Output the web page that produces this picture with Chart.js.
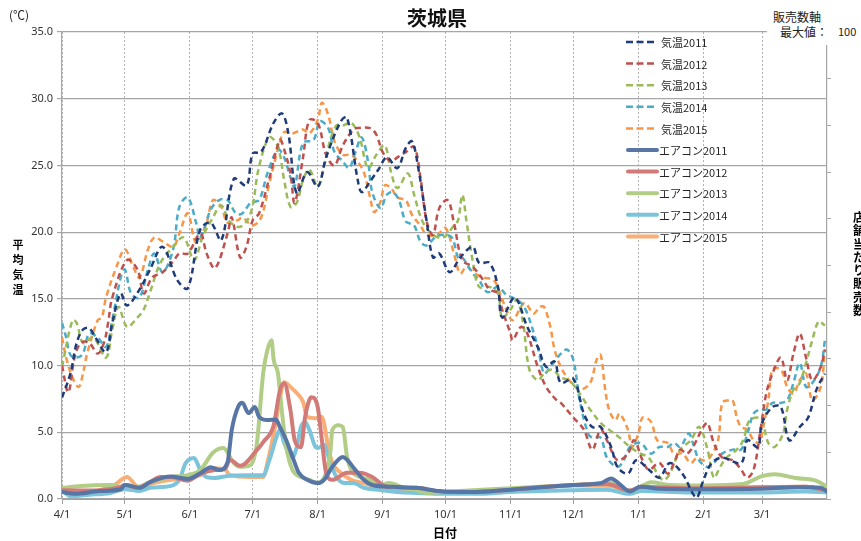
<!DOCTYPE html>
<html>
<head>
<meta charset="utf-8">
<script src="https://cdn.jsdelivr.net/npm/chart.js@4/dist/chart.umd.min.js"></script>
<style>
  html, body { margin: 0; padding: 0; background: #fff; }
  #wrap { position: relative; width: 861px; height: 541px; overflow: hidden; font-family: "Noto Sans CJK JP", "Noto Sans", sans-serif; }
  #wrap canvas { position: absolute; left: 0; top: 0; }
  .lbl { position: absolute; white-space: nowrap; color: #111; }
  .vert { position: absolute; text-align: center; font-weight: bold; color: #000; }
  .vert span { display: block; }
</style>
</head>
<body>
<div id="wrap">
  <canvas id="c" width="861" height="541"></canvas>
  <div class="lbl" style="left:437px; top:6px; transform:translateX(-50%); font-size:20px; line-height:24px; font-weight:bold;">茨城県</div>
  <div class="lbl" style="left:9px; top:8px; font-size:12px; line-height:14px; color:#222;">(℃)</div>
  <div class="vert" style="left:11px; top:237px; width:14px; font-size:11px; line-height:15px;"><span>平</span><span>均</span><span>気</span><span>温</span></div>
  <div class="vert" style="left:852px; top:210px; width:14px; font-size:12px; line-height:13.3px;"><span>店</span><span>舗</span><span>当</span><span>た</span><span>り</span><span>販</span><span>売</span><span>数</span></div>
  <div class="lbl" style="left:433px; top:525px; font-size:12px; line-height:16px; font-weight:bold; color:#000;">日付</div>
  <div style="position:absolute; left:767px; top:0; width:94px; height:45px; background:#fff;">
    <div class="lbl" style="left:6px; top:9px; font-size:12px; line-height:15px; color:#222;">販売数軸</div>
    <div class="lbl" style="left:13px; top:24px; font-size:12px; line-height:15px; color:#222;">最大値：</div>
    <div class="lbl" style="left:71px; top:24px; font-size:11px; line-height:15px; color:#222;">100</div>
  </div>
</div>
<script>
// Month boundaries on a day-of-fiscal-year axis (day 0 = 4/1)
const monthDays = [0, 30, 61, 91, 122, 153, 183, 214, 244, 275, 306, 334];
const monthLabels = ['4/1', '5/1', '6/1', '7/1', '8/1', '9/1', '10/1', '11/1', '12/1', '1/1', '2/1', '3/1'];

// Average temperature (℃), [day, value]
const temp2011 = [[0,7.6],[4,9.4],[7,11.7],[10,12.7],[13,12.8],[16,12.1],[21,11.0],[24,13.2],[28,15.4],[31,14.5],[37,15.7],[42,17.2],[48,18.9],[55,16.4],[60,15.8],[66,20.2],[71,20.7],[76,19.4],[82,24.0],[88,23.5],[91,25.9],[95,26.0],[101,28.2],[105,28.9],[108,27.4],[112,22.9],[117,24.5],[122,23.4],[126,25.6],[133,28.3],[136,28.6],[141,24.0],[143,23.0],[147,23.8],[151,24.7],[155,25.6],[160,24.8],[164,26.3],[167,26.8],[170,24.8],[174,20.8],[177,18.1],[180,18.4],[185,17.0],[190,18.1],[196,18.9],[199,17.7],[204,17.7],[208,15.9],[210,13.6],[216,15.1],[222,12.9],[227,11.4],[231,9.9],[235,10.3],[238,8.7],[244,9.0],[249,6.4],[253,5.4],[257,5.4],[262,3.9],[265,2.4],[270,1.9],[274,2.9],[280,2.2],[285,1.6],[290,2.7],[296,1.9],[301,0.4],[303,0.1],[306,1.4],[310,2.7],[315,3.1],[324,2.7],[327,4.4],[332,3.9],[334,5.7],[339,6.9],[343,6.9],[347,4.4],[352,5.4],[356,6.1],[360,8.2],[364,9.4]];
const temp2012 = [[0,10.0],[3,8.0],[6,10.6],[9,11.7],[13,11.7],[17,10.9],[20,11.7],[22,13.2],[24,15.1],[31,17.9],[36,17.2],[39,15.4],[43,16.6],[48,17.0],[53,17.8],[56,18.4],[60,18.4],[66,19.9],[69,18.4],[73,17.3],[79,19.9],[81,21.1],[85,18.1],[88,18.9],[91,20.9],[94,21.4],[99,24.1],[104,26.9],[106,26.2],[109,24.4],[111,22.2],[115,25.6],[118,28.4],[122,28.2],[126,25.8],[130,25.0],[134,26.5],[139,27.7],[141,27.8],[147,27.8],[150,27.3],[153,26.0],[157,25.3],[160,25.6],[164,26.0],[168,26.4],[171,24.1],[174,20.8],[177,19.8],[180,21.8],[184,22.4],[187,20.7],[191,17.9],[196,17.4],[201,16.4],[204,15.7],[208,15.4],[210,14.2],[214,12.4],[215,11.9],[219,12.9],[222,12.4],[227,9.9],[231,8.4],[236,7.4],[238,7.2],[244,6.1],[249,5.2],[253,3.7],[257,5.2],[260,4.4],[265,2.9],[270,3.4],[273,4.4],[277,2.9],[280,2.2],[285,2.7],[289,1.9],[292,2.7],[295,3.7],[298,3.4],[301,3.9],[306,5.4],[308,5.7],[311,4.2],[315,3.1],[320,2.9],[324,2.2],[327,1.6],[330,2.2],[333,4.9],[336,7.9],[339,9.4],[343,10.6],[346,8.9],[349,10.9],[352,12.4],[355,10.6],[358,8.9],[362,9.9],[364,11.2]];
const temp2013 = [[0,9.9],[5,13.4],[7,13.2],[10,11.7],[15,12.1],[21,10.6],[24,12.7],[27,14.4],[31,12.9],[36,13.6],[39,14.2],[42,15.5],[47,17.7],[53,18.9],[58,19.6],[63,17.9],[67,19.6],[72,21.1],[76,22.0],[80,20.8],[85,20.4],[90,21.4],[94,24.9],[99,27.1],[103,26.4],[106,23.9],[109,21.9],[112,22.2],[115,23.9],[118,24.7],[122,23.4],[125,24.9],[128,26.9],[131,28.0],[134,28.0],[138,28.2],[142,27.1],[146,24.8],[150,25.8],[154,26.5],[157,24.5],[160,23.3],[165,24.4],[168,22.8],[172,20.8],[177,19.8],[182,19.6],[187,20.5],[189,20.9],[191,22.8],[193,20.8],[196,17.8],[199,15.9],[204,15.9],[208,15.4],[210,13.6],[214,14.2],[217,14.9],[220,13.2],[223,9.7],[227,8.9],[230,9.4],[234,9.7],[238,9.1],[242,8.9],[247,7.9],[252,6.7],[257,5.7],[261,5.2],[266,4.6],[271,3.9],[276,3.4],[280,3.1],[284,1.9],[287,1.4],[290,1.9],[295,3.7],[300,4.4],[304,5.4],[308,3.7],[311,1.6],[314,2.4],[317,3.1],[322,3.7],[325,4.4],[328,5.9],[332,6.1],[334,5.9],[337,4.2],[340,3.9],[344,4.9],[346,6.7],[349,8.2],[352,8.7],[355,10.2],[358,11.9],[361,13.3],[364,13.0]];
const temp2014 = [[0,13.2],[2,12.1],[4,10.8],[7,10.6],[10,10.9],[13,12.4],[17,12.1],[21,11.4],[24,13.4],[28,16.6],[30,17.2],[33,15.4],[37,15.1],[41,17.2],[44,18.4],[48,17.0],[53,18.7],[56,21.9],[60,22.6],[64,20.7],[66,19.6],[71,21.7],[75,22.4],[79,22.4],[83,21.4],[86,21.4],[90,22.2],[94,22.4],[98,24.4],[103,26.2],[106,25.6],[109,24.1],[111,23.4],[115,26.7],[120,26.9],[123,28.3],[127,27.8],[130,26.0],[134,25.3],[137,24.8],[140,26.0],[143,27.1],[146,25.3],[148,23.0],[152,21.8],[155,22.8],[158,23.0],[161,22.3],[164,20.8],[168,20.5],[171,19.3],[174,19.0],[178,19.6],[182,19.8],[186,19.6],[189,18.1],[191,18.1],[196,16.9],[199,16.4],[203,15.5],[208,15.9],[212,15.3],[215,15.1],[219,14.7],[222,13.9],[227,11.4],[230,9.4],[233,9.9],[238,10.9],[241,11.2],[244,10.4],[247,7.4],[251,4.9],[253,4.6],[257,4.6],[260,3.1],[265,2.4],[268,2.9],[271,3.9],[276,4.2],[281,3.4],[285,3.9],[289,3.9],[292,4.2],[295,3.9],[299,4.9],[301,4.2],[304,2.9],[308,2.4],[311,2.7],[315,3.4],[320,3.7],[324,3.7],[327,4.9],[330,6.4],[333,6.7],[336,6.7],[339,7.2],[343,7.2],[346,7.4],[349,8.7],[352,10.2],[355,8.4],[358,8.7],[362,9.9],[364,11.9]];
const temp2015 = [[0,12.1],[2,10.6],[5,9.1],[8,8.4],[10,9.4],[12,10.9],[17,13.4],[19,13.6],[21,15.1],[26,17.4],[30,18.7],[34,17.4],[37,16.6],[41,18.7],[44,19.6],[48,19.3],[53,18.9],[56,19.9],[60,21.4],[64,19.2],[69,20.7],[72,22.4],[76,21.9],[79,20.7],[84,20.9],[86,21.1],[91,20.5],[95,21.1],[99,23.7],[103,26.2],[106,27.5],[110,27.4],[115,27.7],[118,27.4],[122,28.4],[124,29.7],[127,28.8],[130,26.8],[134,25.8],[138,25.8],[141,25.3],[144,24.5],[147,22.6],[149,21.5],[152,22.3],[154,23.5],[157,23.3],[160,22.6],[164,22.4],[167,21.3],[171,20.5],[174,19.8],[179,19.8],[183,20.3],[187,18.4],[190,16.9],[193,17.4],[197,16.9],[201,16.6],[206,16.4],[209,15.4],[212,14.2],[215,13.4],[219,14.4],[221,14.7],[225,13.9],[228,14.4],[230,14.4],[233,12.9],[235,11.2],[238,9.9],[242,8.9],[247,8.2],[252,8.7],[255,10.4],[257,10.8],[259,8.4],[261,6.7],[264,5.9],[266,6.4],[270,5.2],[272,3.9],[275,4.9],[277,6.1],[281,5.8],[284,4.4],[289,4.2],[292,3.4],[296,3.4],[300,2.7],[303,3.1],[306,2.9],[309,3.1],[313,4.4],[315,7.2],[318,7.4],[320,7.4],[322,6.1],[324,5.4],[327,5.2],[330,4.4],[333,4.2],[334,4.9],[337,7.4],[339,9.7],[343,9.7],[346,8.4],[349,7.9],[352,8.9],[355,9.4],[358,7.4],[362,8.4],[364,11.2]];

// Air conditioner sales per store (right axis, max 100), [day, value]
const aircon2011 = [[0,1.5],[6,1.1],[18,1.7],[28,2.1],[30,3.0],[37,2.4],[42,3.6],[52,4.8],[60,4.3],[66,5.5],[71,6.8],[75,6.2],[79,7.9],[81,14.8],[84,19.7],[86,20.6],[89,18.4],[92,19.7],[94,17.6],[98,16.9],[102,17.0],[104,15.4],[107,12.6],[110,9.0],[113,5.6],[117,4.1],[122,3.4],[125,4.1],[129,6.9],[134,9.0],[136,8.4],[140,6.2],[144,4.1],[148,3.0],[158,2.6],[169,2.4],[180,1.7],[195,1.5],[214,2.0],[244,3.0],[257,3.4],[262,4.4],[266,3.2],[271,1.6],[276,2.6],[285,2.2],[304,2.1],[333,2.2],[352,2.5],[362,2.4],[365,1.6]];
const aircon2012 = [[0,1.9],[9,1.8],[18,1.9],[28,2.6],[30,3.0],[36,2.4],[42,3.6],[47,4.7],[52,4.7],[60,3.9],[66,5.4],[73,6.2],[78,6.6],[80,8.4],[85,7.1],[93,10.5],[96,12.2],[101,15.8],[104,23.3],[106,24.8],[109,19.0],[111,12.6],[114,11.1],[116,17.6],[118,21.2],[119,21.8],[122,19.7],[124,12.6],[126,5.6],[129,4.1],[136,5.6],[142,5.6],[148,4.7],[155,2.6],[169,2.4],[183,1.5],[200,1.5],[214,2.0],[244,3.0],[260,3.2],[271,1.8],[276,2.6],[300,2.3],[334,2.5],[355,2.6],[365,1.8]];
const aircon2013 = [[0,2.4],[9,2.8],[23,3.0],[28,2.6],[30,3.0],[36,2.6],[42,3.6],[52,4.7],[60,5.1],[66,6.2],[72,9.9],[77,10.9],[82,7.7],[85,6.9],[90,7.3],[93,12.0],[96,27.0],[98,31.9],[100,34.0],[101,29.8],[103,27.0],[105,18.4],[107,11.1],[110,6.2],[114,4.7],[118,4.1],[122,3.4],[126,5.6],[128,9.9],[129,14.8],[132,15.8],[134,15.4],[136,9.0],[138,6.2],[142,4.7],[147,4.1],[152,3.0],[156,3.4],[163,2.4],[169,1.9],[174,1.3],[190,1.7],[214,2.3],[244,3.0],[262,3.4],[271,1.8],[276,2.6],[281,3.6],[290,3.0],[306,2.9],[325,3.2],[334,4.9],[340,5.3],[350,4.5],[360,3.9],[365,2.6]];
const aircon2014 = [[0,1.9],[4,0.6],[13,0.9],[23,1.3],[30,2.1],[37,1.7],[42,2.4],[52,2.8],[56,4.1],[59,7.7],[63,8.8],[66,6.2],[69,4.7],[73,4.5],[80,5.0],[90,5.1],[96,5.1],[99,8.4],[103,14.1],[104,14.8],[106,12.0],[110,9.0],[112,11.1],[114,15.4],[116,16.5],[118,14.8],[121,11.1],[122,10.9],[125,11.6],[128,7.7],[131,4.7],[135,3.4],[139,3.4],[144,2.4],[152,1.9],[160,1.5],[169,1.3],[183,1.1],[200,1.1],[214,1.5],[244,1.9],[260,2.0],[271,1.1],[276,1.7],[300,1.4],[334,1.4],[355,1.6],[365,1.4]];
const aircon2015 = [[0,1.9],[6,1.5],[18,1.9],[25,3.0],[31,4.7],[35,3.0],[37,2.4],[42,3.2],[52,4.1],[60,4.5],[66,5.1],[73,6.6],[78,6.2],[80,5.1],[90,4.7],[96,4.7],[98,7.7],[102,16.3],[104,21.8],[106,25.0],[109,24.0],[112,22.7],[115,20.8],[117,17.6],[121,17.3],[124,17.6],[125,16.3],[127,11.1],[129,7.7],[133,5.6],[138,4.1],[144,3.4],[152,2.4],[160,1.9],[169,1.5],[183,1.5],[200,1.6],[214,2.1],[244,2.9],[262,2.8],[271,1.3],[276,2.4],[300,2.1],[334,2.5],[355,2.6],[365,1.7]];

const toPoints = arr => arr.map(([x, y]) => ({ x, y }));

const tempSeries = [
  { label: '気温2011', data: temp2011, color: '#1f3c78' },
  { label: '気温2012', data: temp2012, color: '#c0504d' },
  { label: '気温2013', data: temp2013, color: '#9bbb59' },
  { label: '気温2014', data: temp2014, color: '#4bacc6' },
  { label: '気温2015', data: temp2015, color: '#f79646' }
];
const airconSeries = [
  { label: 'エアコン2011', data: aircon2011, color: '#5776a6' },
  { label: 'エアコン2012', data: aircon2012, color: '#d27a77' },
  { label: 'エアコン2013', data: aircon2013, color: '#b2cd86' },
  { label: 'エアコン2014', data: aircon2014, color: '#7cc4da' },
  { label: 'エアコン2015', data: aircon2015, color: '#f9ae78' }
];

const datasets = [
  ...tempSeries.map(s => ({
    label: s.label, data: toPoints(s.data), yAxisID: 'y',
    borderColor: s.color, borderWidth: 2.5, borderDash: [6, 4],
    pointRadius: 0, tension: 0.35, fill: false
  })),
  ...airconSeries.map(s => ({
    label: s.label, data: toPoints(s.data), yAxisID: 'y2',
    borderColor: s.color, borderWidth: 4, borderJoinStyle: 'round', borderCapStyle: 'round',
    pointRadius: 0, cubicInterpolationMode: 'monotone', fill: false
  }))
];

// Legend drawn inside the plot area, top right
const insideLegend = {
  id: 'insideLegend',
  afterDraw(chart) {
    const ctx = chart.ctx;
    chart.data.datasets.forEach((ds, i) => {
      const y = 42 + i * 21.6;
      const dashed = !!ds.borderDash;
      ctx.save();
      ctx.strokeStyle = ds.borderColor;
      ctx.lineWidth = dashed ? 2.5 : 4;
      ctx.lineCap = dashed ? 'butt' : 'round';
      ctx.setLineDash(dashed ? [7, 3.5] : []);
      ctx.beginPath();
      ctx.moveTo(dashed ? 626 : 628, y);
      ctx.lineTo(dashed ? 654 : 657, y);
      ctx.stroke();
      ctx.setLineDash([]);
      ctx.fillStyle = '#262626';
      ctx.font = '11px "Noto Sans CJK JP"';
      ctx.textBaseline = 'middle';
      ctx.fillText(ds.label, dashed ? 661 : 659, y + 1);
      ctx.restore();
    });
  }
};

const tickFont = { family: 'Noto Sans', size: 11 };

new Chart(document.getElementById('c'), {
  type: 'line',
  data: { datasets },
  plugins: [insideLegend],
  options: {
    responsive: false,
    animation: false,
    devicePixelRatio: 1,
    layout: { padding: { top: 32, left: 0, right: 0, bottom: 0 } },
    plugins: { legend: { display: false }, title: { display: false }, tooltip: { enabled: false } },
    scales: {
      x: {
        type: 'linear', min: 0, max: 365,
        afterBuildTicks(scale) { scale.ticks = monthDays.map(v => ({ value: v })); },
        afterFit(scale) { scale.height = 42; },
        ticks: {
          autoSkip: false, maxRotation: 0, minRotation: 0, padding: 4,
          font: tickFont, color: '#333',
          callback: (v, i) => monthLabels[i]
        },
        grid: { color: '#b3b3b3', lineWidth: 1, tickLength: 5, tickColor: '#a0a0a0' },
        border: { color: '#a0a0a0', dash: [2, 2] }
      },
      y: {
        type: 'linear', position: 'left', min: 0, max: 35,
        afterFit(scale) { scale.width = 62; },
        ticks: { stepSize: 5, padding: 4, font: tickFont, color: '#333', callback: v => v.toFixed(1) },
        grid: { color: '#a6a6a6', lineWidth: 1.2, tickLength: 5 },
        border: { color: '#a6a6a6', width: 1.2 }
      },
      y2: {
        type: 'linear', position: 'right', min: 0, max: 100,
        afterFit(scale) { scale.width = 34; },
        ticks: { stepSize: 10, display: false },
        grid: { drawOnChartArea: false, tickLength: 4, color: '#a6a6a6' },
        border: { color: '#a6a6a6', width: 1.2 }
      }
    }
  }
});
</script>
</body>
</html>
